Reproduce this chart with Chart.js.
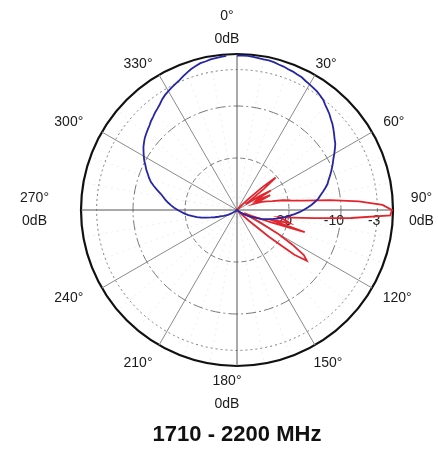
<!DOCTYPE html>
<html>
<head>
<meta charset="utf-8">
<script src="https://cdn.jsdelivr.net/npm/chart.js@4.4.1/dist/chart.umd.min.js"></script>
<style>html,body{margin:0;padding:0;background:#fff;}canvas{display:block;}</style>
</head>
<body>
<canvas id="c" width="438" height="450"></canvas>
<script>
// Category axis: direction in degrees (clockwise from 0° at top), 2° steps
const angles = [0,2,4,6,8,10,12,14,16,18,20,22,24,26,28,30,32,34,36,38,40,42,44,46,48,50,52,54,56,58,
60,62,64,66,68,70,72,74,76,78,80,82,84,86,88,90,92,94,96,98,100,102,104,106,108,110,112,114,116,118,
120,122,124,126,128,130,132,134,136,138,140,142,144,146,148,150,152,154,156,158,160,162,164,166,168,170,172,174,176,178,
180,182,184,186,188,190,192,194,196,198,200,202,204,206,208,210,212,214,216,218,220,222,224,226,228,230,232,234,236,238,
240,242,244,246,248,250,252,254,256,258,260,262,264,266,268,270,272,274,276,278,280,282,284,286,288,290,292,294,296,298,
300,302,304,306,308,310,312,314,316,318,320,322,324,326,328,330,332,334,336,338,340,342,344,346,348,350,352,354,356,358];

// Horizontal (blue) pattern, dB
const azimuthDb = [-0.3,-0.3,-0.3,-0.4,-0.5,-0.6,-0.6,-0.7,-0.9,-1.0,-1.2,-1.3,-1.5,-1.6,-1.9,-2.1,-2.3,-2.5,-2.8,-3.1,
-3.6,-4.0,-4.4,-4.9,-5.3,-5.8,-6.3,-6.8,-7.2,-7.8,-8.4,-9.0,-9.5,-10.0,-10.5,-11.0,-11.5,-11.9,-12.5,-13.1,
-13.7,-14.2,-14.9,-15.6,-16.4,-17.2,-18.0,-18.9,-19.8,-20.6,-21.4,-22.1,-22.9,-23.6,-24.3,-25.0,-25.8,-26.5,-27.1,-27.6,
-28.0,-28.5,-29.0,-29.4,-29.7,-30,-30,-30,-30,-30,-30,-30,-30,-30,-30,-30,-30,-30,-30,-30,
-30,-30,-30,-30,-30,-30,-30,-30,-30,-30,-30,-30,-30,-30,-30,-30,-30,-30,-30,-30,
-30,-30,-30,-30,-30,-30,-30,-30,-30,-30,-30,-30,-30,-30,-30,-29.9,-29.7,-29.5,-29.2,
-28.8,-28.4,-28.0,-27.6,-27.2,-26.8,-26.2,-25.5,-24.8,-24.0,-23.0,-22.2,-21.4,-20.6,-19.9,-19.3,-18.6,-17.9,-17.3,-16.7,
-16.1,-15.6,-15.0,-14.2,-13.4,-12.6,-12.0,-11.5,-10.9,-10.4,-9.8,-9.3,-8.8,-8.3,-7.9,-7.5,-7.2,-6.9,-6.6,-6.2,
-5.9,-5.5,-5.2,-4.8,-4.3,-3.9,-3.6,-3.3,-3.0,-2.7,-2.3,-1.9,-1.5,-1.2,-0.9,-0.8,-0.6,-0.5,-0.4,-0.3];

// Vertical (red) pattern, dB
const elevationDb = [-30,-30,-30,-30,-30,-30,-30,-30,-30,-30,-30,-30,-30,-30,-30,-30,-30,-30,-30,-30,
-30,-30,-29,-27,-23.5,-20.3,-23.5,-27,-28,-25,-22.5,-25.5,-26,-23,-25,-26.5,-25,-24,-23,-21,
-19.5,-17,-12,-6.5,-2,-0.2,-0.5,-8,-15,-19.5,-22,-20.5,-19.5,-23.5,-16.3,-23,-27,-28.5,-27.5,-25,
-21,-17.5,-14.5,-13.4,-16,-22,-27,-29.5,-30,-30,-30,-30,-30,-30,-30,-30,-30,-30,-30,-30,
-30,-30,-30,-30,-30,-30,-30,-30,-30,-30,-30,-30,-30,-30,-30,-30,-30,-30,-30,-30,
-30,-30,-30,-30,-30,-30,-30,-30,-30,-30,-30,-30,-30,-30,-30,-30,-30,-30,-30,-30,
-30,-30,-30,-30,-30,-30,-30,-30,-30,-30,-30,-30,-30,-30,-30,-30,-30,-30,-30,-30,
-30,-30,-30,-30,-30,-30,-30,-30,-30,-30,-30,-30,-30,-30,-30,-30,-30,-30,-30,-30,
-30,-30,-30,-30,-30,-30,-30,-30,-30,-30,-30,-30,-30,-30,-30,-30,-30,-30,-30,-30];

const ringValues = [-20, -10, -3, 0];
const ringLabelValues = [-20, -10, -3];
const spokeAngles = [0, 30, 60, 90, 120, 150, 180, 210, 240, 270, 300, 330];
const axisAngles = [0, 90, 180, 270];
const axisSubLabel = '0dB';
const titleText = '1710 - 2200 MHz';

const FONT = '"Liberation Sans", Arial, sans-serif';

const labelPlugin = {
  id: 'polarLabels',
  beforeDatasetsDraw(chart) {
    const s = chart.scales.r, ctx = chart.ctx;
    ctx.save();
    ctx.font = '14px ' + FONT;
    ctx.fillStyle = '#222';
    ctx.textAlign = 'right';
    ctx.textBaseline = 'middle';
    ringLabelValues.forEach(v => {
      const d = s.getDistanceFromCenterForValue(v);
      ctx.fillText(String(v), s.xCenter + d + 3, s.yCenter + 11);
    });
    ctx.restore();
  },
  afterDraw(chart) {
    const s = chart.scales.r, ctx = chart.ctx;
    ctx.save();
    ctx.font = '14px ' + FONT;
    ctx.fillStyle = '#1a1a1a';
    ctx.textAlign = 'center';
    ctx.textBaseline = 'middle';
    const lh = 23;
    spokeAngles.forEach(a => {
      const idx = angles.indexOf(a);
      const lines = axisAngles.includes(a) ? [a + '°', axisSubLabel] : [a + '°'];
      const th = s.getIndexAngle(idx);
      const sn = Math.sin(th), cs = Math.cos(th);
      const w = Math.max(...lines.map(t => ctx.measureText(t).width));
      const h = 14 + (lines.length - 1) * lh;
      const p = s.getPointPosition(idx, s.drawingArea + 8 + 6 * sn * sn);
      let cx = p.x + sn * (w / 2 + 2);
      let cy = p.y - cs * (h / 2);
      if (Math.abs(sn) < 0.01) cx -= 10;
      else if (sn < -0.99) cx -= 16;
      else if (sn < 0) cx -= 8;
      if (Math.abs(cs) > 0.8 && Math.abs(cs) < 0.95) cy += 4;
      lines.forEach((t, k) => ctx.fillText(t, cx, cy - (lines.length - 1) * lh / 2 + k * lh));
    });
    ctx.restore();
  }
};

new Chart(document.getElementById('c'), {
  type: 'radar',
  data: {
    labels: angles,
    datasets: [
      { label: 'Horizontal', data: azimuthDb, borderColor: '#2626a4', borderWidth: 1.8,
        pointRadius: 0, fill: false, tension: 0, order: 0 },
      { label: 'Vertical', data: elevationDb, borderColor: '#e1262d', borderWidth: 1.8,
        pointRadius: 0, fill: false, tension: 0, order: 1 }
    ]
  },
  options: {
    responsive: false,
    animation: false,
    layout: { padding: { left: 81, right: 45, top: 54, bottom: 2 } },
    plugins: {
      legend: { display: false },
      tooltip: { enabled: false },
      title: {
        display: true, position: 'bottom', text: titleText, color: '#111',
        font: { family: FONT, size: 22, weight: 'bold' },
        padding: { top: 54.1, bottom: 0 }
      }
    },
    scales: {
      r: {
        min: -30, max: 0, startAngle: 0,
        afterBuildTicks: (sc) => { sc.ticks = ringValues.map(v => ({ value: v })); },
        ticks: { display: false },
        pointLabels: { display: false },
        grid: {
          circular: true,
          color: (c) => (c.tick && c.tick.value === 0) ? '#111' : '#7a7a7a',
          lineWidth: (c) => (c.tick && c.tick.value === 0) ? 2.2 : 1
        },
        border: {
          dash: (c) => {
            const v = c.tick ? c.tick.value : 0;
            if (v === 0) return [];
            if (v === -3) return [2, 3];
            if (v === -10) return [10, 3, 2, 3];
            return [5, 3];
          }
        },
        angleLines: {
          display: true,
          color: (c) => {
            const a = angles[c.index];
            if (a % 90 === 0) return '#555';
            if (a % 30 === 0) return '#8a8a8a';
            return 'rgba(0,0,0,0.07)';
          },
          lineWidth: (c) => (angles[c.index] % 10 === 0) ? 1 : 0,
          borderDash: (c) => (angles[c.index] % 30 === 0) ? [] : [2, 4]
        }
      }
    }
  },
  plugins: [labelPlugin]
});
</script>
</body>
</html>
